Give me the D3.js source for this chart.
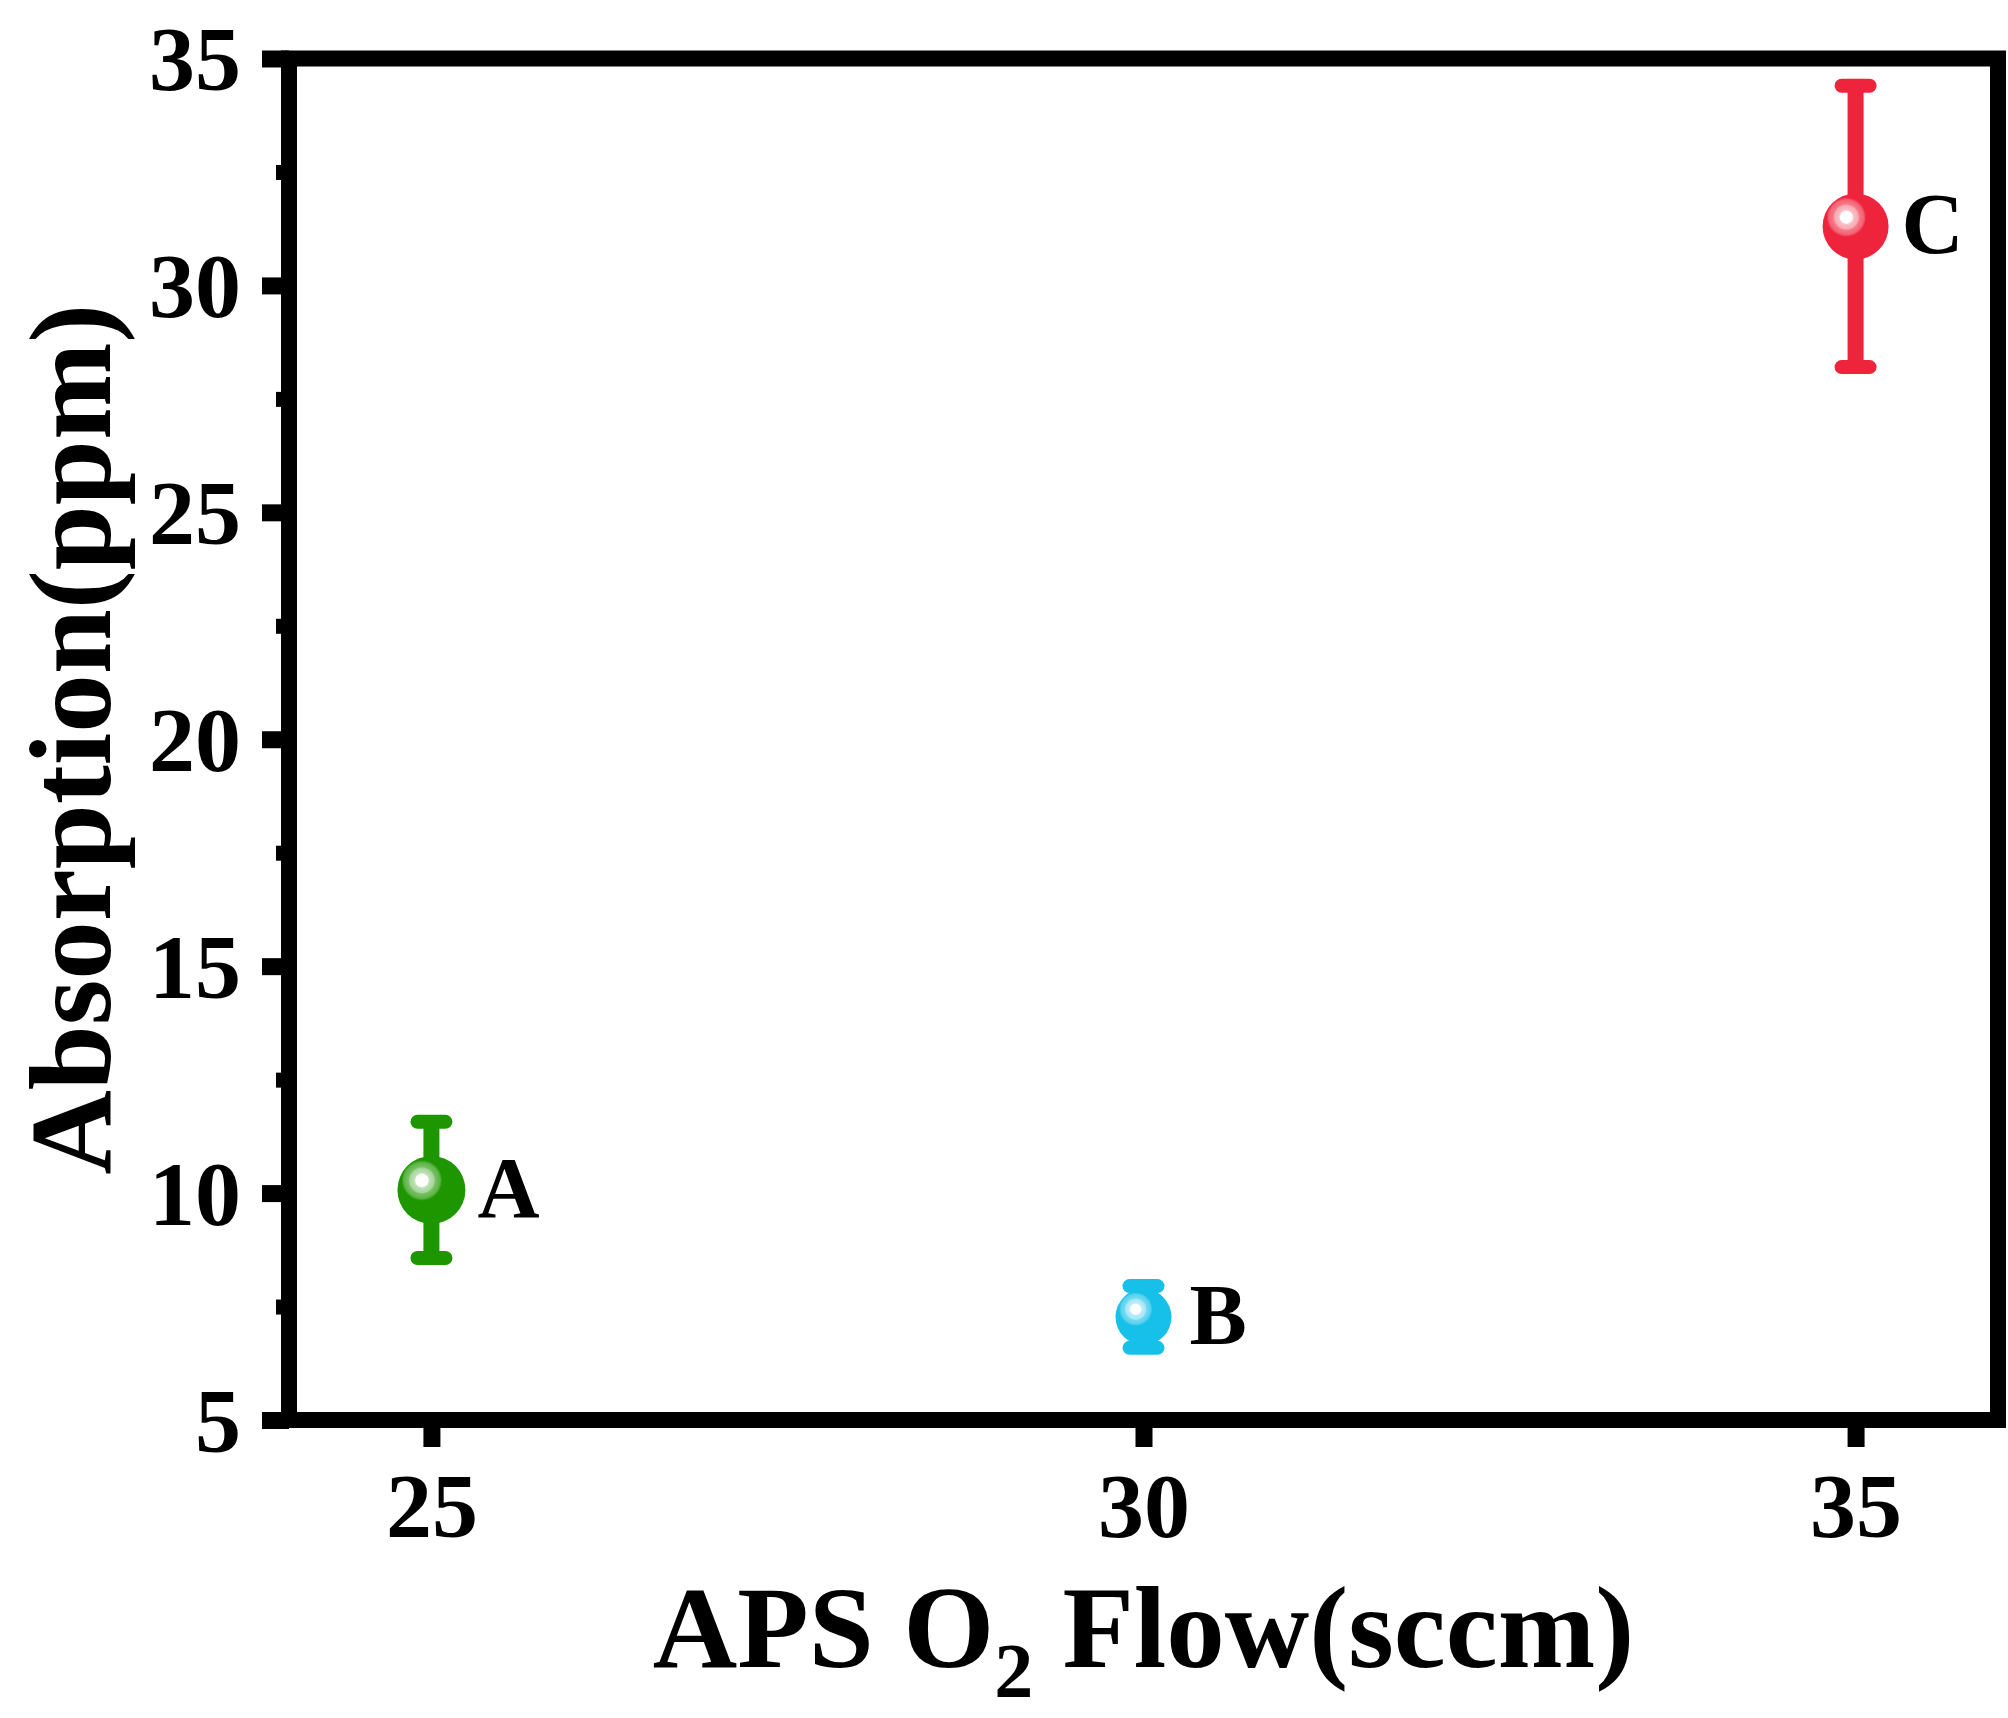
<!DOCTYPE html>
<html>
<head>
<meta charset="utf-8">
<script src="https://cdn.jsdelivr.net/npm/d3@7"></script>
<style>
  body { margin: 0; background: #fff; }
  svg text { font-family: "Liberation Serif", "Times New Roman", serif; font-weight: bold; fill: #000; }
</style>
</head>
<body>
<div id="chart"></div>
<script>
// Data
const flow = [25, 30, 35];
const absorption = [10.07, 7.27, 31.3];
const errors = [1.5, 0.68, 3.1];
const labels = ["A", "B", "C"];
const colors = ["#1e9600", "#17c0e8", "#ee233c"];
const markerR = [34, 28, 33];

const xTicks = [25, 30, 35];
const yTicks = [5, 10, 15, 20, 25, 30, 35];
const yMinor = [7.5, 12.5, 17.5, 22.5, 27.5, 32.5];

const W = 2008, H = 1718;
const margin = { top: 58.5, right: 10, bottom: 298, left: 289 };
const width = W - margin.left - margin.right,
    height = H - margin.top - margin.bottom;

const svg = d3.select("#chart")
    .append("svg")
    .attr("width", W)
    .attr("height", H);

const g = svg.append("g")
    .attr("transform", `translate(${margin.left},${margin.top})`);

const x = d3.scaleLinear().domain([24, 36]).range([0, width]);
const y = d3.scaleLinear().domain([5, 35]).range([height, 0]);

// gradients for the glossy markers
const defs = svg.append("defs");
colors.forEach((c, i) => {
    const mix = d3.interpolateRgb(c, "#ffffff");
    const grad = defs.append("radialGradient")
        .attr("id", "shine" + i)
        .attr("cx", 0.36).attr("cy", 0.36)
        .attr("fx", 0.36).attr("fy", 0.36)
        .attr("r", 0.3);
    [[0, 1], [0.3, 1], [0.36, 0.72], [0.6, 0.6], [0.66, 0.4], [0.88, 0.28], [1, 0]].forEach(s => {
        grad.append("stop").attr("offset", s[0]).attr("stop-color", mix(s[1]));
    });
});

// axes
const xAxis = g.append("g")
    .attr("transform", `translate(0,${height})`)
    .call(d3.axisBottom(x).tickValues(xTicks).tickSize(27).tickPadding(0).tickFormat(d3.format("d")));

const yAxis = g.append("g")
    .call(d3.axisLeft(y).tickValues(yTicks).tickSize(27).tickPadding(21).tickFormat(d3.format("d")));

g.append("g")
    .call(d3.axisLeft(y).tickValues(yMinor).tickSize(13).tickFormat(""))
    .call(a => a.select(".domain").remove())
    .selectAll("line").attr("stroke", "#000").attr("stroke-width", 15);

[xAxis, yAxis].forEach(a => {
    a.select(".domain").remove();
    a.selectAll("line").attr("stroke", "#000").attr("stroke-width", 17);
    a.selectAll("text").style("font-size", "92px").style("font-family", null);
});
xAxis.selectAll("text").attr("y", 117).attr("dy", null);
yAxis.selectAll("text").attr("dy", "0.34em");

// frame
g.append("rect")
    .attr("x", 0).attr("y", 0)
    .attr("width", x(36) - x(24))
    .attr("height", height)
    .attr("fill", "none")
    .attr("stroke", "#000")
    .attr("stroke-width", 16);

// error bars + markers
const pts = g.selectAll(".pt")
    .data(flow.map((f, i) => ({ f, v: absorption[i], e: errors[i], lab: labels[i], c: colors[i], r: markerR[i], i })))
    .enter().append("g").attr("class", "pt");

pts.append("line")
    .attr("x1", d => x(d.f)).attr("x2", d => x(d.f))
    .attr("y1", d => y(d.v + d.e)).attr("y2", d => y(d.v - d.e))
    .attr("stroke", d => d.c).attr("stroke-width", 16);

pts.selectAll(".cap")
    .data(d => [d.v + d.e, d.v - d.e].map(v => ({ v, d })))
    .enter().append("rect")
    .attr("x", o => x(o.d.f) - 21)
    .attr("y", o => y(o.v) - 7)
    .attr("width", 42).attr("height", 14)
    .attr("rx", 7)
    .attr("fill", o => o.d.c);

pts.append("circle")
    .attr("cx", d => x(d.f)).attr("cy", d => y(d.v))
    .attr("r", d => d.r)
    .attr("fill", d => `url(#shine${d.i})`);

pts.append("text")
    .attr("x", d => x(d.f) + 46)
    .attr("y", d => y(d.v) + 27)
    .style("font-size", "86px")
    .text(d => d.lab);

// axis titles
const xt = svg.append("text")
    .attr("x", margin.left + width / 2)
    .attr("y", 1667)
    .attr("text-anchor", "middle")
    .style("font-size", "117px");
xt.append("tspan").text("APS O");
xt.append("tspan").attr("dy", 30).style("font-size", "78px").text("2");
xt.append("tspan").attr("dy", -30).text(" Flow(sccm)");

svg.append("text")
    .attr("transform", `translate(110,${margin.top + height / 2}) rotate(-90)`)
    .attr("text-anchor", "middle")
    .style("font-size", "117px")
    .text("Absorption(ppm)");
</script>
</body>
</html>
